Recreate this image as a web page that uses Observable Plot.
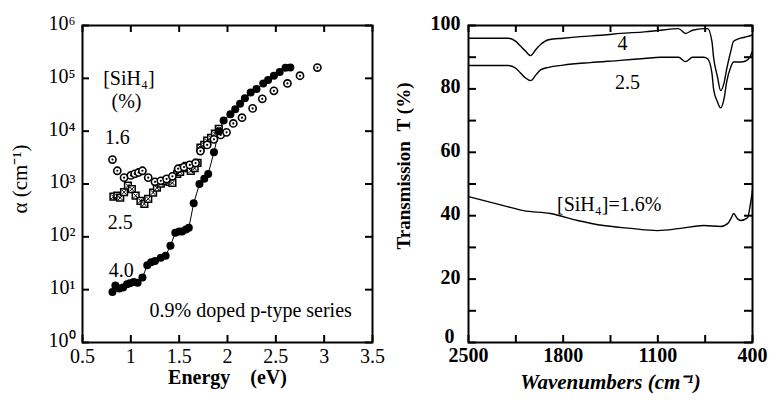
<!DOCTYPE html>
<html><head><meta charset="utf-8">
<script src="https://cdn.jsdelivr.net/npm/d3@7"></script>
<script src="https://cdn.jsdelivr.net/npm/@observablehq/plot@0.6"></script>
<style>
body{margin:0;background:#fff;}
#wrap{position:relative;width:778px;height:400px;overflow:hidden;background:#fff;}
#left{position:absolute;left:0;top:0;}
#right{position:absolute;left:390px;top:0;}
</style></head><body><div id="wrap"><div id="left"></div><div id="right"></div></div>
<script>
// ---------- Left panel data: absorption coefficient vs photon energy ----------
const energy16 = [0.81,0.86,0.93,1.00,1.04,1.08,1.12,1.18,1.25,1.31,1.37,1.43,1.49,1.55,1.61,1.67,1.72,1.79,1.86,1.93,1.99,2.06,2.15,2.26,2.36,2.48,2.62,2.75,2.93];
const alpha16  = [2900,1780,1320,1450,1560,1650,1780,1320,1100,1150,1250,1400,1950,2100,2300,2500,4200,5500,7000,8500,9500,14000,18000,27000,41000,58000,80000,112000,160000];

const energy25 = [0.82,0.86,0.89,0.93,0.97,1.01,1.05,1.10,1.14,1.18,1.23,1.27,1.31,1.36,1.40,1.43,1.48,1.51,1.54,1.58,1.62,1.66,1.69,1.72,1.76,1.79,1.83,1.87,1.91];
const alpha25  = [575,600,550,700,930,800,600,480,420,525,690,850,1020,1150,1100,1050,1550,1700,2000,2200,1780,2000,2500,4900,5500,6600,7500,9000,11000];

const energy40 = [0.81,0.84,0.88,0.92,0.96,0.99,1.03,1.07,1.12,1.17,1.21,1.25,1.31,1.36,1.41,1.46,1.50,1.53,1.57,1.60,1.65,1.71,1.76,1.80,1.86,1.91,1.96,2.03,2.08,2.13,2.18,2.24,2.30,2.37,2.42,2.48,2.54,2.60,2.65];
const alpha40  = [9,12,10.5,11,12.6,13.2,14,13.5,17,29,33,35,40,44,68,120,126,126,138,148,430,1000,1260,1550,4000,10000,16000,21000,26000,33000,42000,54000,63000,80000,93000,112000,132000,158000,160000];

const energyTicks = [0.5,1,1.5,2,2.5,3,3.5];
const alphaTicks  = [1,10,100,1000,10000,100000,1000000];

const leftNoteText = ["[SiH\u2084]","(%)","1.6","2.5","4.0","0.9% doped p-type series"];
const leftNoteE    = [0.98,0.955,0.86,0.89,0.90,2.24];
const leftNoteA    = [100000,37000,7500,185,23,4];

// ---------- Right panel data: IR transmission vs wavenumber ----------
const wn4 = [2500,2204,2150,2115,2080,2041,2000,1967,1908,1800,1672,1500,1376,1200,1080,947,895,843,760,732,700,688,660,636,610,592,560,540,488,440,400];
const t4  = [96,96,95,93.5,92,90.5,92.5,94,95.5,96,96.5,97,97.5,98,98.5,99,97.5,98.5,99,99,95,90,84,79.5,82,86,92,95,96,96.5,97];

const wn25 = [2500,2204,2150,2115,2080,2041,2000,1967,1908,1800,1600,1376,1200,1080,947,895,843,760,732,700,688,660,636,610,592,560,540,488,450,420,400];
const t25  = [87.4,87.4,86.5,85,83.5,82.6,84.5,86,86.8,87.5,88.3,89,89.6,90,90,88.6,90,90,89.5,85,80,76,74,77,82,87,88.5,88.5,88.8,90,92];

const wn16 = [2500,2241,2093,1894,1694,1501,1302,1102,932,762,636,584,555,540,510,488,436,415,400];
const t16  = [46,43.2,41.6,40.7,38.5,36.9,36,35.3,36,36.9,36.6,37.5,39.5,40.7,39,38.5,39.4,43.8,48];

const wnTicks = [2500,2150,1800,1450,1100,750,400];
const wnLabels = [2500,1800,1100,400];
const tTicks = [0,10,20,30,40,50,60,70,80,90,100];
const tLabels = [20,40,60,80,100];
const tZeroLabel = [0];

const rightNoteText = ["4","2.5","[SiH\u2084]=1.6%"];
const rightNoteW    = [1361,1324,1460];
const rightNoteT    = [94.3,82,43.5];

// ---------- build ----------
const zip = (xs, ys) => xs.map((x, i) => ({x, y: ys[i]}));
const sup = ["\u2070","\u00b9","\u00b2","\u00b3","\u2074","\u2075","\u2076"];
const font = "'Liberation Serif', 'Times New Roman', serif";

const L = {w: 390, h: 400, ml: 82, mr: 18, mt: 25, mb: 58};
const Lw = L.w - L.ml - L.mr, Lh = L.h - L.mt - L.mb;
const s16 = zip(energy16, alpha16), s25 = zip(energy25, alpha25), s40 = zip(energy40, alpha40);
const leftNotes = leftNoteText.map((t, i) => ({t, x: leftNoteE[i], y: leftNoteA[i]}));

const left = Plot.plot({
  width: L.w, height: L.h, marginLeft: L.ml, marginRight: L.mr, marginTop: L.mt, marginBottom: L.mb,
  style: {fontFamily: font, fontSize: "20px", background: "white", color: "black", overflow: "visible"},
  x: {domain: [0.5, 3.5]},
  y: {type: "log", domain: [1, 1e6]},
  marks: [
    Plot.line(s40, {x: "x", y: "y", stroke: "black", strokeWidth: 1}),
    Plot.dot(s25, {x: "x", y: "y", symbol: "square", r: 3.8, fill: "white", stroke: "black", strokeWidth: 1.5}),
    Plot.dot(s25, {x: "x", y: "y", symbol: "times", r: 2.2, stroke: "black", strokeWidth: 1}),
    Plot.dot(s16, {x: "x", y: "y", r: 3.6, fill: "white", stroke: "black", strokeWidth: 1.6}),
    Plot.dot(s16, {x: "x", y: "y", r: 1.1, fill: "black"}),
    Plot.dot(s40, {x: "x", y: "y", r: 4, fill: "black"}),
    Plot.frame({stroke: "black", strokeWidth: 2}),
    Plot.ruleX(energyTicks, {x: d => d, insetTop: Lh - 7, stroke: "black", strokeWidth: 2}),
    Plot.ruleX(energyTicks, {x: d => d, insetBottom: Lh - 7, stroke: "black", strokeWidth: 2}),
    Plot.ruleY(alphaTicks, {y: d => d, insetRight: Lw - 7, stroke: "black", strokeWidth: 2}),
    Plot.ruleY(alphaTicks, {y: d => d, insetLeft: Lw - 7, stroke: "black", strokeWidth: 2}),
    Plot.axisX(energyTicks, {tickSize: 0, tickPadding: 6, tickFormat: d => String(d), label: null, fontSize: 20}),
    Plot.axisY(alphaTicks, {tickSize: 0, tickPadding: 7, dy: -2, tickFormat: d => "10" + sup[Math.round(Math.log10(d))], label: null, fontSize: 20}),
    Plot.text(leftNotes, {x: "x", y: "y", text: "t", fontSize: 20, fill: "black"}),
    Plot.text(["Energy\u00a0\u00a0\u00a0\u00a0(eV)"], {frameAnchor: "bottom", dy: 41, fontWeight: "bold", fontSize: 20}),
    Plot.text(["\u03b1 (cm\u207b\u00b9)"], {frameAnchor: "left", textAnchor: "middle", dx: -62, dy: -5, rotate: -90, fontSize: 21})
  ]
});
document.getElementById("left").append(left);

const R = {w: 388, h: 400, ml: 78, mr: 26, mt: 25, mb: 58};
const Rw = R.w - R.ml - R.mr, Rh = R.h - R.mt - R.mb;
const r4 = zip(wn4, t4), r25 = zip(wn25, t25), r16 = zip(wn16, t16);
const rightNotes = rightNoteText.map((t, i) => ({t, x: rightNoteW[i], y: rightNoteT[i]}));

const right = Plot.plot({
  width: R.w, height: R.h, marginLeft: R.ml, marginRight: R.mr, marginTop: R.mt, marginBottom: R.mb,
  style: {fontFamily: font, fontSize: "20px", background: "white", color: "black", overflow: "visible"},
  x: {domain: [2500, 400]},
  y: {domain: [0, 100]},
  marks: [
    Plot.line(r4, {x: "x", y: "y", stroke: "black", strokeWidth: 1.4, curve: "monotone-x"}),
    Plot.line(r25, {x: "x", y: "y", stroke: "black", strokeWidth: 1.4, curve: "monotone-x"}),
    Plot.line(r16, {x: "x", y: "y", stroke: "black", strokeWidth: 1.4, curve: "monotone-x"}),
    Plot.frame({stroke: "black", strokeWidth: 2}),
    Plot.ruleX(wnTicks, {x: d => d, insetTop: Rh - 7, stroke: "black", strokeWidth: 2}),
    Plot.ruleX(wnTicks, {x: d => d, insetBottom: Rh - 7, stroke: "black", strokeWidth: 2}),
    Plot.ruleY(tTicks, {y: d => d, insetRight: Rw - 8, stroke: "black", strokeWidth: 2}),
    Plot.ruleY(tTicks, {y: d => d, insetLeft: Rw - 8, stroke: "black", strokeWidth: 2}),
    Plot.axisX(wnLabels, {tickSize: 0, tickPadding: 5, tickFormat: d => String(d), label: null, fontSize: 20, fontWeight: "bold"}),
    Plot.axisY(tLabels, {tickSize: 0, tickPadding: 8, dy: -2, tickFormat: d => String(d), label: null, fontSize: 20, fontWeight: "bold"}),
    Plot.axisY(tZeroLabel, {tickSize: 0, tickPadding: 14, dy: -6, tickFormat: d => String(d), label: null, fontSize: 20, fontWeight: "bold"}),
    Plot.text(rightNotes, {x: "x", y: "y", text: "t", fontSize: 20, fill: "black"}),
    Plot.text(["Wavenumbers (cm\u207b\u00b9)"], {frameAnchor: "bottom", dy: 46, fontWeight: "bold", fontStyle: "italic", fontSize: 21}),
    Plot.text(["Transmission\u00a0\u00a0T\u00a0(%)"], {frameAnchor: "left", textAnchor: "middle", dx: -65, dy: -18, rotate: -90, fontWeight: "bold", fontSize: 19})
  ]
});
document.getElementById("right").append(right);
</script>
</body></html>
